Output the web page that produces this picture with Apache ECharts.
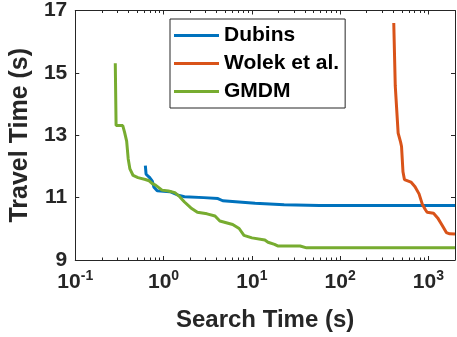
<!DOCTYPE html>
<html><head><meta charset="utf-8">
<script src="https://cdn.jsdelivr.net/npm/echarts@6/dist/echarts.min.js"></script>
<style>html,body{margin:0;padding:0;background:#fff}#c{width:457px;height:337px}</style>
</head><body><div id="c"></div>
<script>
const seriesNames = ['Dubins', 'Wolek et al.', 'GMDM'];
const seriesColors = ['#0072BD', '#D95319', '#77AC30'];

const dubinsTime   = [0.622, 0.634, 0.687, 0.746, 0.779, 0.847, 1.183, 1.462, 1.726, 2.852, 4.13, 4.68, 10.9, 23.2, 58.2, 2000];
const dubinsTravel = [12.03, 11.75, 11.66, 11.53, 11.33, 11.22, 11.19, 11.08, 11.03, 11.00, 10.97, 10.90, 10.82, 10.77, 10.75, 10.75];

const wolekTime   = [405, 421, 437, 454, 484, 496, 515, 535, 634, 705, 783, 852, 925, 966, 1143, 1273, 1391, 1480, 1596, 1742, 2000];
const wolekTravel = [16.60, 14.59, 14.53, 13.07, 12.78, 12.64, 11.83, 11.58, 11.50, 11.35, 11.12, 10.79, 10.61, 10.53, 10.50, 10.35, 10.17, 10.04, 9.88, 9.84, 9.83];

const gmdmTime   = [0.284, 0.290, 0.345, 0.361, 0.382, 0.398, 0.416, 0.452, 0.513, 0.622, 0.687, 0.746, 0.811, 0.961, 1.137, 1.342, 1.522, 1.726, 2.042, 2.416, 3.106, 3.828, 4.34, 6.065, 7.18, 8.14, 10.03, 14.04, 15.25, 18.06, 19.62, 35.2, 41.7, 2000];
const gmdmTravel = [15.31, 13.31, 13.31, 13.11, 12.81, 12.24, 11.92, 11.71, 11.64, 11.58, 11.54, 11.45, 11.40, 11.24, 11.21, 11.16, 11.03, 10.86, 10.67, 10.53, 10.48, 10.41, 10.25, 10.14, 10.01, 9.79, 9.71, 9.64, 9.57, 9.50, 9.45, 9.45, 9.39, 9.39];

const yTicks = [9, 11, 13, 15, 17];
const xMajorTicks = [0.1, 1, 10, 100, 1000];
const xMinorTicks = [0.2,0.3,0.4,0.5,0.6,0.7,0.8,0.9, 2,3,4,5,6,7,8,9, 20,30,40,50,60,70,80,90, 200,300,400,500,600,700,800,900];
const xMin = 0.1, xMax = 2000, yMin = 9, yMax = 17;

const zip = (a, b) => a.map((v, i) => [v, b[i]]);
const allTime = [dubinsTime, wolekTime, gmdmTime];
const allTravel = [dubinsTravel, wolekTravel, gmdmTravel];

const FONT = "'Liberation Sans', Arial, Helvetica, sans-serif";
const TXT = '#262626';

function xAxisDef(pos, ticks, len, showLabel, showLine) {
  return {
    type: 'log', logBase: 10, min: xMin, max: xMax, position: pos, gridIndex: 0,
    axisLine: {show: showLine, lineStyle: {color: TXT, width: 1}},
    axisTick: {show: true, inside: true, length: len, customValues: ticks, lineStyle: {color: TXT, width: 1}},
    axisLabel: showLabel ? {
      show: true, margin: 9, customValues: ticks,
      formatter: function (v) { return '{b|10}{s|' + Math.round(Math.log10(v)) + '}'; },
      rich: {
        b: {fontSize: 21, fontWeight: 'bold', fontFamily: FONT, color: TXT, lineHeight: 24, verticalAlign: 'bottom'},
        s: {fontSize: 14, fontWeight: 'bold', fontFamily: FONT, color: TXT, lineHeight: 14, verticalAlign: 'top', padding: [0, 0, 2, 0]}
      }
    } : {show: false},
    splitLine: {show: false}, minorTick: {show: false}
  };
}

const xAxes = [
  Object.assign(xAxisDef('bottom', xMajorTicks, 4, true, true), {
    name: 'Search Time (s)', nameLocation: 'middle', nameGap: 48,
    nameTextStyle: {fontSize: 24, fontWeight: 'bold', fontFamily: FONT, color: TXT}
  }),
  xAxisDef('bottom', xMinorTicks, 2.5, false, false),
  xAxisDef('top', xMajorTicks, 4, false, true),
  xAxisDef('top', xMinorTicks, 2.5, false, false)
];

const yAxes = [
  {
    type: 'value', min: yMin, max: yMax, interval: 2, position: 'left',
    name: 'Travel Time (s)', nameLocation: 'middle', nameGap: 40,
    nameTextStyle: {fontSize: 25, fontWeight: 'bold', fontFamily: FONT, color: TXT},
    axisLine: {show: true, lineStyle: {color: TXT, width: 1}},
    axisTick: {show: true, inside: true, length: 4, lineStyle: {color: TXT}},
    axisLabel: {show: true, margin: 8, fontSize: 21, fontWeight: 'bold', fontFamily: FONT, color: TXT, customValues: yTicks},
    splitLine: {show: false}
  },
  {
    type: 'value', min: yMin, max: yMax, interval: 2, position: 'right',
    axisLine: {show: true, lineStyle: {color: TXT, width: 1}},
    axisTick: {show: true, inside: true, length: 4, lineStyle: {color: TXT}},
    axisLabel: {show: false}, splitLine: {show: false}
  }
];

const series = seriesNames.map((n, i) => ({
  name: n, type: 'line', xAxisIndex: 0, yAxisIndex: 0,
  data: zip(allTime[i], allTravel[i]),
  symbol: 'none', showSymbol: false,
  lineStyle: {color: seriesColors[i], width: 3},
  itemStyle: {color: seriesColors[i]},
  clip: true, animation: false
}));

const chart = echarts.init(document.getElementById('c'), null, {renderer: 'canvas'});
chart.setOption({
  backgroundColor: '#fff',
  animation: false,
  grid: {left: 60, top: 8, width: 395, height: 255, containLabel: false},
  xAxis: xAxes,
  yAxis: yAxes,
  legend: {
    data: seriesNames, orient: 'vertical', left: 170, top: 19,
    icon: 'rect', itemWidth: 45, itemHeight: 3, itemGap: 7,
    padding: [6, 6, 6, 4], borderColor: TXT, borderWidth: 1, backgroundColor: '#fff',
    textStyle: {fontSize: 21, fontWeight: 'bold', fontFamily: FONT, color: '#000', lineHeight: 21}
  },
  series: series
});
</script></body></html>
